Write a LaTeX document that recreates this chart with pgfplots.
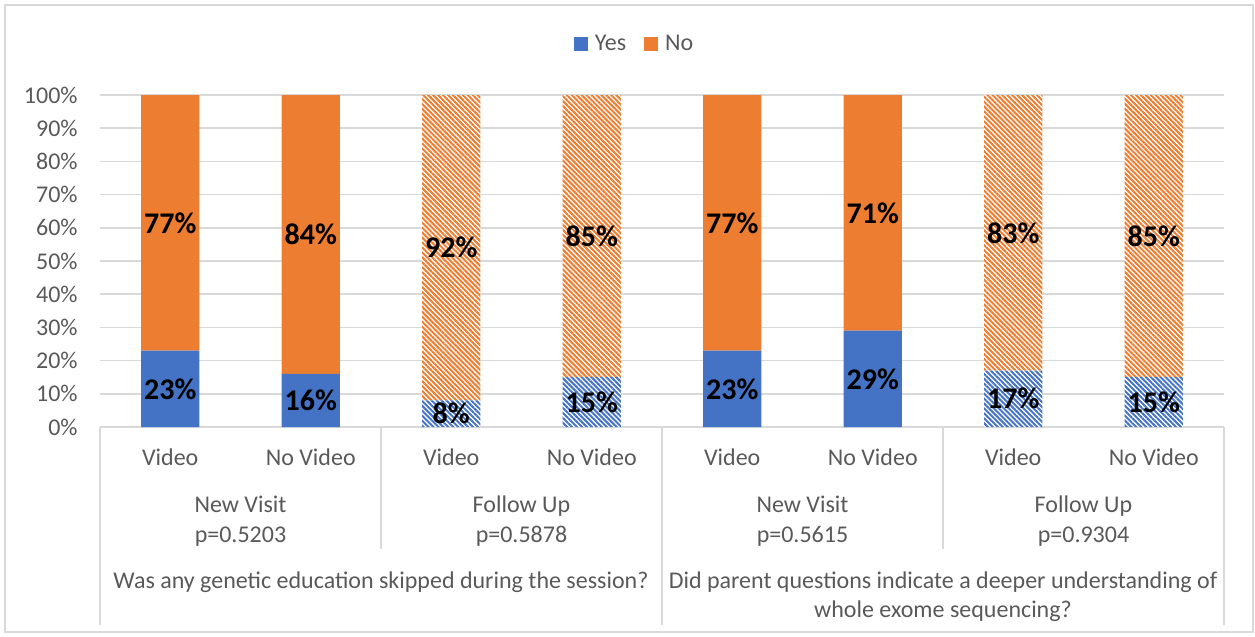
\documentclass[border=0pt]{standalone}
\usepackage{pgfplots}
\pgfplotsset{compat=1.18}
\usetikzlibrary{patterns.meta}
\usepackage{fontspec}
\setmainfont{Carlito}

\definecolor{blueC}{HTML}{4472C4}
\definecolor{orangeC}{HTML}{ED7D31}
\definecolor{gridC}{HTML}{D9D9D9}
\definecolor{textC}{HTML}{595959}

\tikzset{hatch/.style={fill=white, draw=none,
  postaction={pattern={Lines[angle=-45,distance=1.75pt,line width=1pt]}, pattern color=#1}}}

\begin{document}
\begin{tikzpicture}
\useasboundingbox (-50pt,-105pt) rectangle (577.5pt,213.5pt);
\draw[gridC, line width=0.75pt] (-47.5pt,-102.5pt) rectangle (576.5pt,211pt);

\begin{axis}[
    at={(0,0)}, anchor=south west,
    scale only axis, width=562pt, height=166pt,
    ybar stacked, bar width=0.413,
    xmin=-0.5, xmax=7.5, ymin=0, ymax=100,
    axis x line*=bottom, axis y line*=left,
    axis line style={draw=none},
    tick style={draw=none}, major tick length=0pt,
    ytick={0,10,...,100},
    yticklabel={\pgfmathprintnumber{\tick}\%},
    xtick={0,...,7},
    xticklabels={Video,No Video,Video,No Video,Video,No Video,Video,No Video},
    /pgf/number format/assume math mode=true,
    ticklabel style={font=\fontsize{12}{14}\selectfont, text=textC},
    yticklabel style={anchor=east, inner sep=0pt, xshift=-11pt},
    xticklabel style={anchor=base, inner sep=0pt, yshift=-19.5pt},
    ymajorgrids, grid style={draw=gridC, line width=0.75pt},
    clip=false,
    legend columns=2,
    legend image code/.code={\fill[#1] (0pt,-3.5pt) rectangle (7pt,3.5pt);},
    legend style={at={(0.4765,1.1536)}, anchor=center, draw=none, fill=none,
      font=\fontsize{12}{14}\selectfont, text=textC,
      /tikz/every odd column/.append style={column sep=1.5pt},
      /tikz/every even column/.append style={column sep=7pt}},
]
% Yes, solid (New Visit)
\addplot[fill=blueC, draw=none] coordinates {
  (0,23) (1,16) (2,0) (3,0) (4,23) (5,29) (6,0) (7,0)};
% Yes, hatched (Follow Up)
\addplot[hatch=blueC] coordinates {
  (0,0) (1,0) (2,8) (3,15) (4,0) (5,0) (6,17) (7,15)};
% No, solid (New Visit)
\addplot[fill=orangeC, draw=none] coordinates {
  (0,77) (1,84) (2,0) (3,0) (4,77) (5,71) (6,0) (7,0)};
% No, hatched (Follow Up)
\addplot[hatch=orangeC] coordinates {
  (0,0) (1,0) (2,92) (3,85) (4,0) (5,0) (6,83) (7,85)};
\legend{Yes,,No,}

\tikzset{grp/.style={anchor=base, inner sep=0pt, align=center, text=textC,
  font=\fontsize{12}{15}\selectfont}}
\node[grp] at ([yshift=-57.5pt]axis cs:0.5,0) {New Visit\\p=0.5203};
\node[grp] at ([yshift=-57.5pt]axis cs:2.5,0) {Follow Up\\p=0.5878};
\node[grp] at ([yshift=-57.5pt]axis cs:4.5,0) {New Visit\\p=0.5615};
\node[grp] at ([yshift=-57.5pt]axis cs:6.5,0) {Follow Up\\p=0.9304};
\node[grp] at ([yshift=-80.5pt]axis cs:1.5,0) {Was any genetic education skipped during the session?};
\node[grp, font=\fontsize{12}{14.5}\selectfont] at ([yshift=-95pt]axis cs:5.5,0) {Did parent questions indicate a deeper understanding of\\whole exome sequencing?};
\end{axis}

% data labels, centred in each segment
\begin{axis}[
    at={(0,0)}, anchor=south west,
    scale only axis, width=562pt, height=166pt,
    xmin=-0.5, xmax=7.5, ymin=0, ymax=100,
    hide axis, clip=false,
]
\addplot[draw=none, mark=none, nodes near coords, point meta=explicit symbolic,
  nodes near coords style={anchor=center, inner sep=0pt, text=black,
    font=\fontsize{15}{17}\selectfont\bfseries}]
  coordinates {
  (0,11.5)[23\%] (1,8)[16\%] (2,4)[8\%] (3,7.5)[15\%]
  (4,11.5)[23\%] (5,14.5)[29\%] (6,8.5)[17\%] (7,7.5)[15\%]
  (0,61.5)[77\%] (1,58)[84\%] (2,54)[92\%] (3,57.5)[85\%]
  (4,61.5)[77\%] (5,64.5)[71\%] (6,58.5)[83\%] (7,57.5)[85\%]
};
\end{axis}

% category separators below the axis
\foreach \x in {0,281,562} \draw[gridC, line width=0.75pt] (\x pt,0) -- (\x pt,-99pt);
\foreach \x in {140.5,421.5} \draw[gridC, line width=0.75pt] (\x pt,0) -- (\x pt,-61pt);
\end{tikzpicture}
\end{document}
